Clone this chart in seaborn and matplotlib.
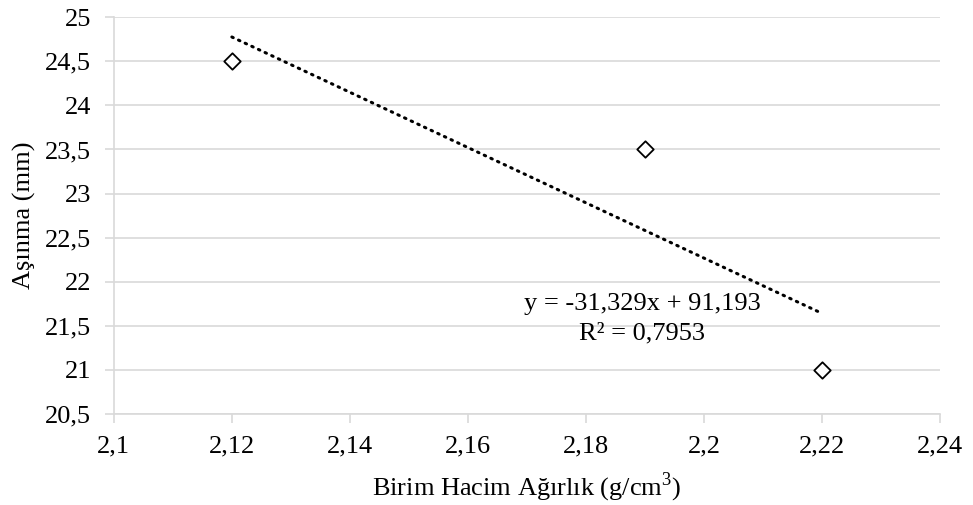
import numpy as np
import pandas as pd
import matplotlib
matplotlib.use("Agg")
import matplotlib.pyplot as plt
import seaborn as sns
from matplotlib.ticker import FuncFormatter, MultipleLocator

density = [2.12, 2.19, 2.22]
wear = [24.5, 23.5, 21.0]
equation_text = "y = -31,329x + 91,193\nR² = 0,7953"
x_label = "Birim Hacim Ağırlık (g/cm$^3$)"
y_label = "Aşınma (mm)"

df = pd.DataFrame({"density": density, "wear": wear})

sns.set_theme(style="white")
plt.rcParams['font.family'] = ['Liberation Serif', 'DejaVu Serif']
plt.rcParams['mathtext.fontset'] = 'custom'
plt.rcParams['mathtext.rm'] = 'Liberation Serif'

fig = plt.figure(figsize=(9.73, 5.05), dpi=100)
ax = fig.add_axes([0.117, 0.180, 0.849, 0.786])

sns.regplot(data=df, x="density", y="wear", scatter=False, ci=None, ax=ax,
            line_kws=dict(color="black", lw=2.2, linestyle=(0, (0.5, 1.9)),
                          dash_capstyle="round"))
sns.scatterplot(data=df, x="density", y="wear", marker="D", s=70,
                facecolor="white", edgecolor="black", linewidth=1.3, ax=ax, zorder=5)

ax.set_xlim(2.1, 2.24)
ax.set_ylim(20.5, 25)
ax.xaxis.set_major_locator(MultipleLocator(0.02))
ax.yaxis.set_major_locator(MultipleLocator(0.5))

def comma_fmt(v, pos):
    s = f"{v:.2f}".rstrip("0").rstrip(".")
    return s.replace(".", ",")

ax.xaxis.set_major_formatter(FuncFormatter(comma_fmt))
ax.yaxis.set_major_formatter(FuncFormatter(comma_fmt))

ax.grid(axis="y", color="#d9d9d9", lw=1.2)
ax.grid(axis="x", visible=False)
for side in ["top", "right"]:
    ax.spines[side].set_visible(False)
for side in ["left", "bottom"]:
    ax.spines[side].set_color("#d9d9d9")
    ax.spines[side].set_linewidth(1.2)
ax.tick_params(axis="both", which="major", length=6.5, width=1.2, color="#d9d9d9",
               labelsize=19, labelcolor="black", direction="out",
               bottom=True, left=True)
ax.tick_params(axis="x", pad=9)
ax.tick_params(axis="y", pad=10)

ax.set_xlabel(x_label, fontsize=19, color="black", labelpad=9)
ax.set_ylabel(y_label, fontsize=19, color="black", labelpad=6)

ax.text(2.1895, 21.58, equation_text, ha="center", va="center", fontsize=19,
        color="black", linespacing=1.4)

fig.savefig("out.png", dpi=100)
